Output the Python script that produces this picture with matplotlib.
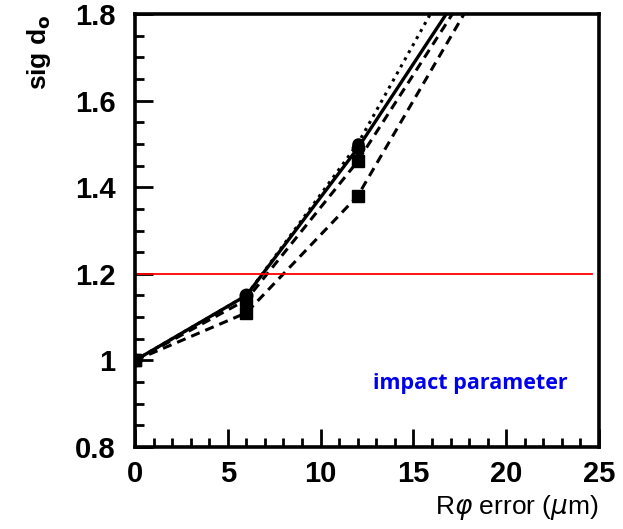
import matplotlib
matplotlib.use("Agg")
import matplotlib.pyplot as plt
from matplotlib.ticker import MultipleLocator

# R-phi error (um) and relative impact parameter resolution
x_err = [0, 6, 12, 18]
sig_solid = [1.00, 1.15, 1.49, 1.88]
sig_dotted = [1.00, 1.15, 1.50, 1.96]
sig_dash_a = [1.00, 1.14, 1.46, 1.86]
sig_dash_b = [1.00, 1.11, 1.38, 1.82]

ref_level = 1.2
ref_x = [0, 24.6]

x_ticks = [0, 5, 10, 15, 20, 25]
y_ticks = [0.8, 1.0, 1.2, 1.4, 1.6, 1.8]
y_ticklabels = ["0.8", "1", "1.2", "1.4", "1.6", "1.8"]

plt.rcParams["font.family"] = ["Liberation Sans", "DejaVu Sans"]

fig = plt.figure(figsize=(6.23, 5.29), dpi=100)
ax = fig.add_axes([0.2167, 0.155, 0.7448, 0.8185])

ax.plot(x_err, sig_dotted, color="black", linestyle=":", linewidth=2.2,
        marker="o", markersize=8)
ax.plot(x_err, sig_solid, color="black", linestyle="-", linewidth=2.4,
        marker="o", markersize=9)
ax.plot(x_err, sig_dash_a, color="black", linestyle="--", linewidth=2.2,
        dashes=(3, 2), marker="s", markersize=9)
ax.plot(x_err, sig_dash_b, color="black", linestyle="--", linewidth=2.2,
        dashes=(3, 2), marker="s", markersize=9)

ax.plot(ref_x, [ref_level, ref_level], color="red", linewidth=1.3)

ax.set_xlim(0, 25)
ax.set_ylim(0.8, 1.8)
ax.set_xticks(x_ticks)
ax.set_yticks(y_ticks)
ax.set_yticklabels(y_ticklabels)
ax.xaxis.set_minor_locator(MultipleLocator(1))
ax.yaxis.set_minor_locator(MultipleLocator(0.05))

ax.tick_params(which="both", direction="in", top=False, right=False,
               width=2, labelsize=21)
ax.tick_params(which="major", length=13)
ax.tick_params(which="minor", length=6.5)
for lab in ax.get_xticklabels() + ax.get_yticklabels():
    lab.set_fontweight("bold")
ax.tick_params(axis="x", pad=9)
ax.tick_params(axis="y", pad=14)
for spine in ax.spines.values():
    spine.set_linewidth(2.6)

ax.set_xlabel(r"R$\varphi$ error ($\mu$m)", fontsize=19, loc="right",
              labelpad=4)
ax.set_ylabel(r"sig d$_{\mathbf{o}}$", fontsize=19, fontweight="bold",
              loc="top", labelpad=16)

ax.text(12.8, 0.947, "impact parameter", color="#0000ee", fontsize=15.5,
        fontweight="bold", family=["Open Sans", "DejaVu Sans"], va="center")

fig.savefig("out.png", dpi=100)
